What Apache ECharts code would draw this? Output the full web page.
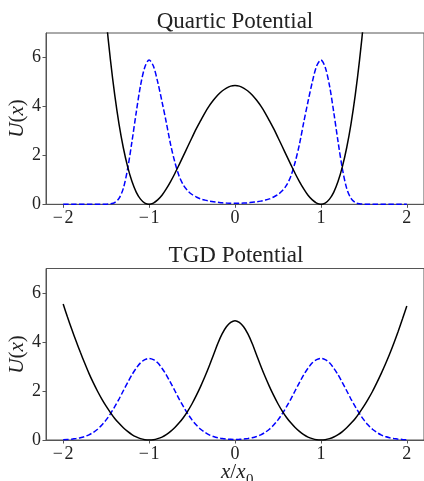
<!DOCTYPE html>
<html>
<head>
<meta charset="utf-8">
<script src="https://cdn.jsdelivr.net/npm/echarts@6/dist/echarts.min.js"></script>
<style>html,body{margin:0;padding:0;background:#fff}#c{width:424px;height:481px}</style>
</head>
<body>
<div id="c"></div>
<script>
// sample positions x/x0
const xGrid = [-2,-1.95,-1.9,-1.85,-1.8,-1.75,-1.7,-1.65,-1.6,-1.55,-1.5,-1.45,-1.4,-1.35,-1.3,-1.25,-1.2,-1.15,-1.1,-1.05,-1,-0.95,-0.9,-0.85,-0.8,-0.75,-0.7,-0.65,-0.6,-0.55,-0.5,-0.45,-0.4,-0.35,-0.3,-0.25,-0.2,-0.15,-0.1,-0.05,0,0.05,0.1,0.15,0.2,0.25,0.3,0.35,0.4,0.45,0.5,0.55,0.6,0.65,0.7,0.75,0.8,0.85,0.9,0.95,1,1.05,1.1,1.15,1.2,1.25,1.3,1.35,1.4,1.45,1.5,1.55,1.6,1.65,1.7,1.75,1.8,1.85,1.9,1.95,2];

// Quartic potential (black) and density (blue dashed)
const quarticU = [null,null,null,null,null,null,null,null,11.80,9.54,7.58,5.90,4.47,3.28,2.31,1.54,0.94,0.50,0.21,0.05,0,0.05,0.18,0.37,0.63,0.93,1.26,1.62,1.99,2.36,2.73,3.09,3.42,3.74,4.02,4.26,4.47,4.63,4.75,4.83,4.85,4.83,4.75,4.63,4.47,4.26,4.02,3.74,3.42,3.09,2.73,2.36,1.99,1.62,1.26,0.93,0.63,0.37,0.18,0.05,0,0.05,0.21,0.50,0.94,1.54,2.31,3.28,4.47,5.90,7.58,9.54,11.80,null,null,null,null,null,null,null,null];
const quarticP = [0,0,0,0,0,0,0,0,0,0,0.005,0.02,0.07,0.24,0.65,1.45,2.55,3.75,4.85,5.6,5.9,5.65,5.0,4.2,3.35,2.45,1.72,1.15,0.78,0.55,0.40,0.30,0.22,0.17,0.13,0.10,0.08,0.06,0.05,0.045,0.04,0.045,0.05,0.06,0.08,0.10,0.13,0.17,0.22,0.30,0.40,0.55,0.78,1.15,1.72,2.45,3.35,4.2,5.0,5.65,5.9,5.6,4.85,3.75,2.55,1.45,0.65,0.24,0.07,0.02,0.005,0,0,0,0,0,0,0,0,0,0];

// TGD potential (black) and density (blue dashed)
const tgdU = [5.55,5.02,4.52,4.04,3.58,3.14,2.72,2.34,1.99,1.67,1.38,1.12,0.88,0.68,0.50,0.35,0.22,0.125,0.055,0.014,0,0.012,0.055,0.12,0.22,0.35,0.51,0.70,0.92,1.18,1.48,1.82,2.19,2.59,3.02,3.48,3.94,4.33,4.62,4.80,4.87,4.80,4.62,4.33,3.94,3.48,3.02,2.59,2.19,1.82,1.48,1.18,0.92,0.70,0.51,0.35,0.22,0.12,0.055,0.012,0,0.014,0.055,0.124,0.22,0.345,0.50,0.68,0.88,1.12,1.38,1.67,1.98,2.33,2.70,3.09,3.51,3.96,4.44,4.95,5.47];
const tgdP = [0.012,0.021,0.035,0.058,0.091,0.14,0.21,0.31,0.44,0.61,0.82,1.07,1.36,1.67,2.01,2.34,2.66,2.93,3.15,3.28,3.33,3.28,3.15,2.93,2.66,2.34,2.01,1.67,1.36,1.07,0.82,0.61,0.44,0.31,0.21,0.14,0.091,0.06,0.039,0.028,0.024,0.028,0.039,0.06,0.091,0.14,0.21,0.31,0.44,0.61,0.82,1.07,1.36,1.67,2.01,2.34,2.66,2.93,3.15,3.28,3.33,3.28,3.15,2.93,2.66,2.34,2.01,1.67,1.36,1.07,0.82,0.61,0.44,0.31,0.21,0.14,0.091,0.058,0.035,0.021,0.012];

const xTicks = [-2,-1,0,1,2];
const yTicks = [0,2,4,6];
const titles = ['Quartic Potential','TGD Potential'];

const pairs = a => xGrid.map((x,i)=>[x,a[i]]);
const F = 'Liberation Serif';
const spine = '#555';

function xAx(g){return {gridIndex:g,type:'value',min:-2.2,max:2.2,
  axisLine:{show:true,onZero:false,lineStyle:{color:spine,width:1}},
  axisTick:{show:true,length:3.5,customValues:xTicks,lineStyle:{color:spine}},
  axisLabel:{customValues:xTicks,margin:5,color:'#222',fontFamily:F,fontSize:18,
    formatter:v=>String(v).replace('-','\u2212\u200A')},
  splitLine:{show:false}};}
function yAx(g){return {gridIndex:g,type:'value',min:0,max:7,
  axisLine:{show:true,onZero:false,lineStyle:{color:spine,width:1}},
  axisTick:{show:true,length:3.5,customValues:yTicks,lineStyle:{color:spine}},
  axisLabel:{customValues:yTicks,margin:5,color:'#222',fontFamily:F,fontSize:18},
  splitLine:{show:false}};}
function blk(g,d){return {type:'line',xAxisIndex:g,yAxisIndex:g,data:pairs(d),showSymbol:false,smooth:0.3,
  lineStyle:{color:'#000',width:1.5},clip:true,z:3};}
function blu(g,d){return {type:'line',xAxisIndex:g,yAxisIndex:g,data:pairs(d),showSymbol:false,smooth:0.3,
  lineStyle:{color:'#0000ff',width:1.5,type:[5.5,2.4]},clip:true,z:2};}

const rich = {i:{fontFamily:F,fontStyle:'italic',fontSize:21,fill:'#222',color:'#222'},n:{fontFamily:F,fontSize:21,fill:'#222',color:'#222'}};
function txt(x,y,text,size){return {type:'text',x:x,y:y,style:{text:text,fill:'#222',font:size+'px "'+F+'"',align:'center',verticalAlign:'middle'}};}

const chart = echarts.init(document.getElementById('c'),null,{renderer:'canvas'});
chart.setOption({
  animation:false,
  backgroundColor:'#fff',
  grid:[{left:46,top:33,width:378,height:171.3,show:true,borderColor:spine,borderWidth:1},
        {left:46,top:268.5,width:378,height:171.5,show:true,borderColor:spine,borderWidth:1}],
  xAxis:[xAx(0),xAx(1)],
  yAxis:[yAx(0),yAx(1)],
  series:[blu(0,quarticP),blk(0,quarticU),blu(1,tgdP),blk(1,tgdU)],
  graphic:[
    txt(235,21.5,titles[0],23),
    txt(236,256,titles[1],23),
    {type:'text',x:17,y:118.5,rotation:Math.PI/2,style:{text:'{i|U}{n|(}{i|x}{n|)}',rich:rich,align:'center',verticalAlign:'middle'}},
    {type:'text',x:17,y:354.5,rotation:Math.PI/2,style:{text:'{i|U}{n|(}{i|x}{n|)}',rich:rich,align:'center',verticalAlign:'middle'}},
    {type:'text',x:245.5,y:472.5,style:{text:'{i|x}{n|/}{i|x}',rich:rich,align:'right',verticalAlign:'middle'}},
    {type:'text',x:246,y:480,style:{text:'0',fill:'#222',font:'15px "'+F+'"',align:'left',verticalAlign:'middle'}}
  ]
});
</script>
</body>
</html>
